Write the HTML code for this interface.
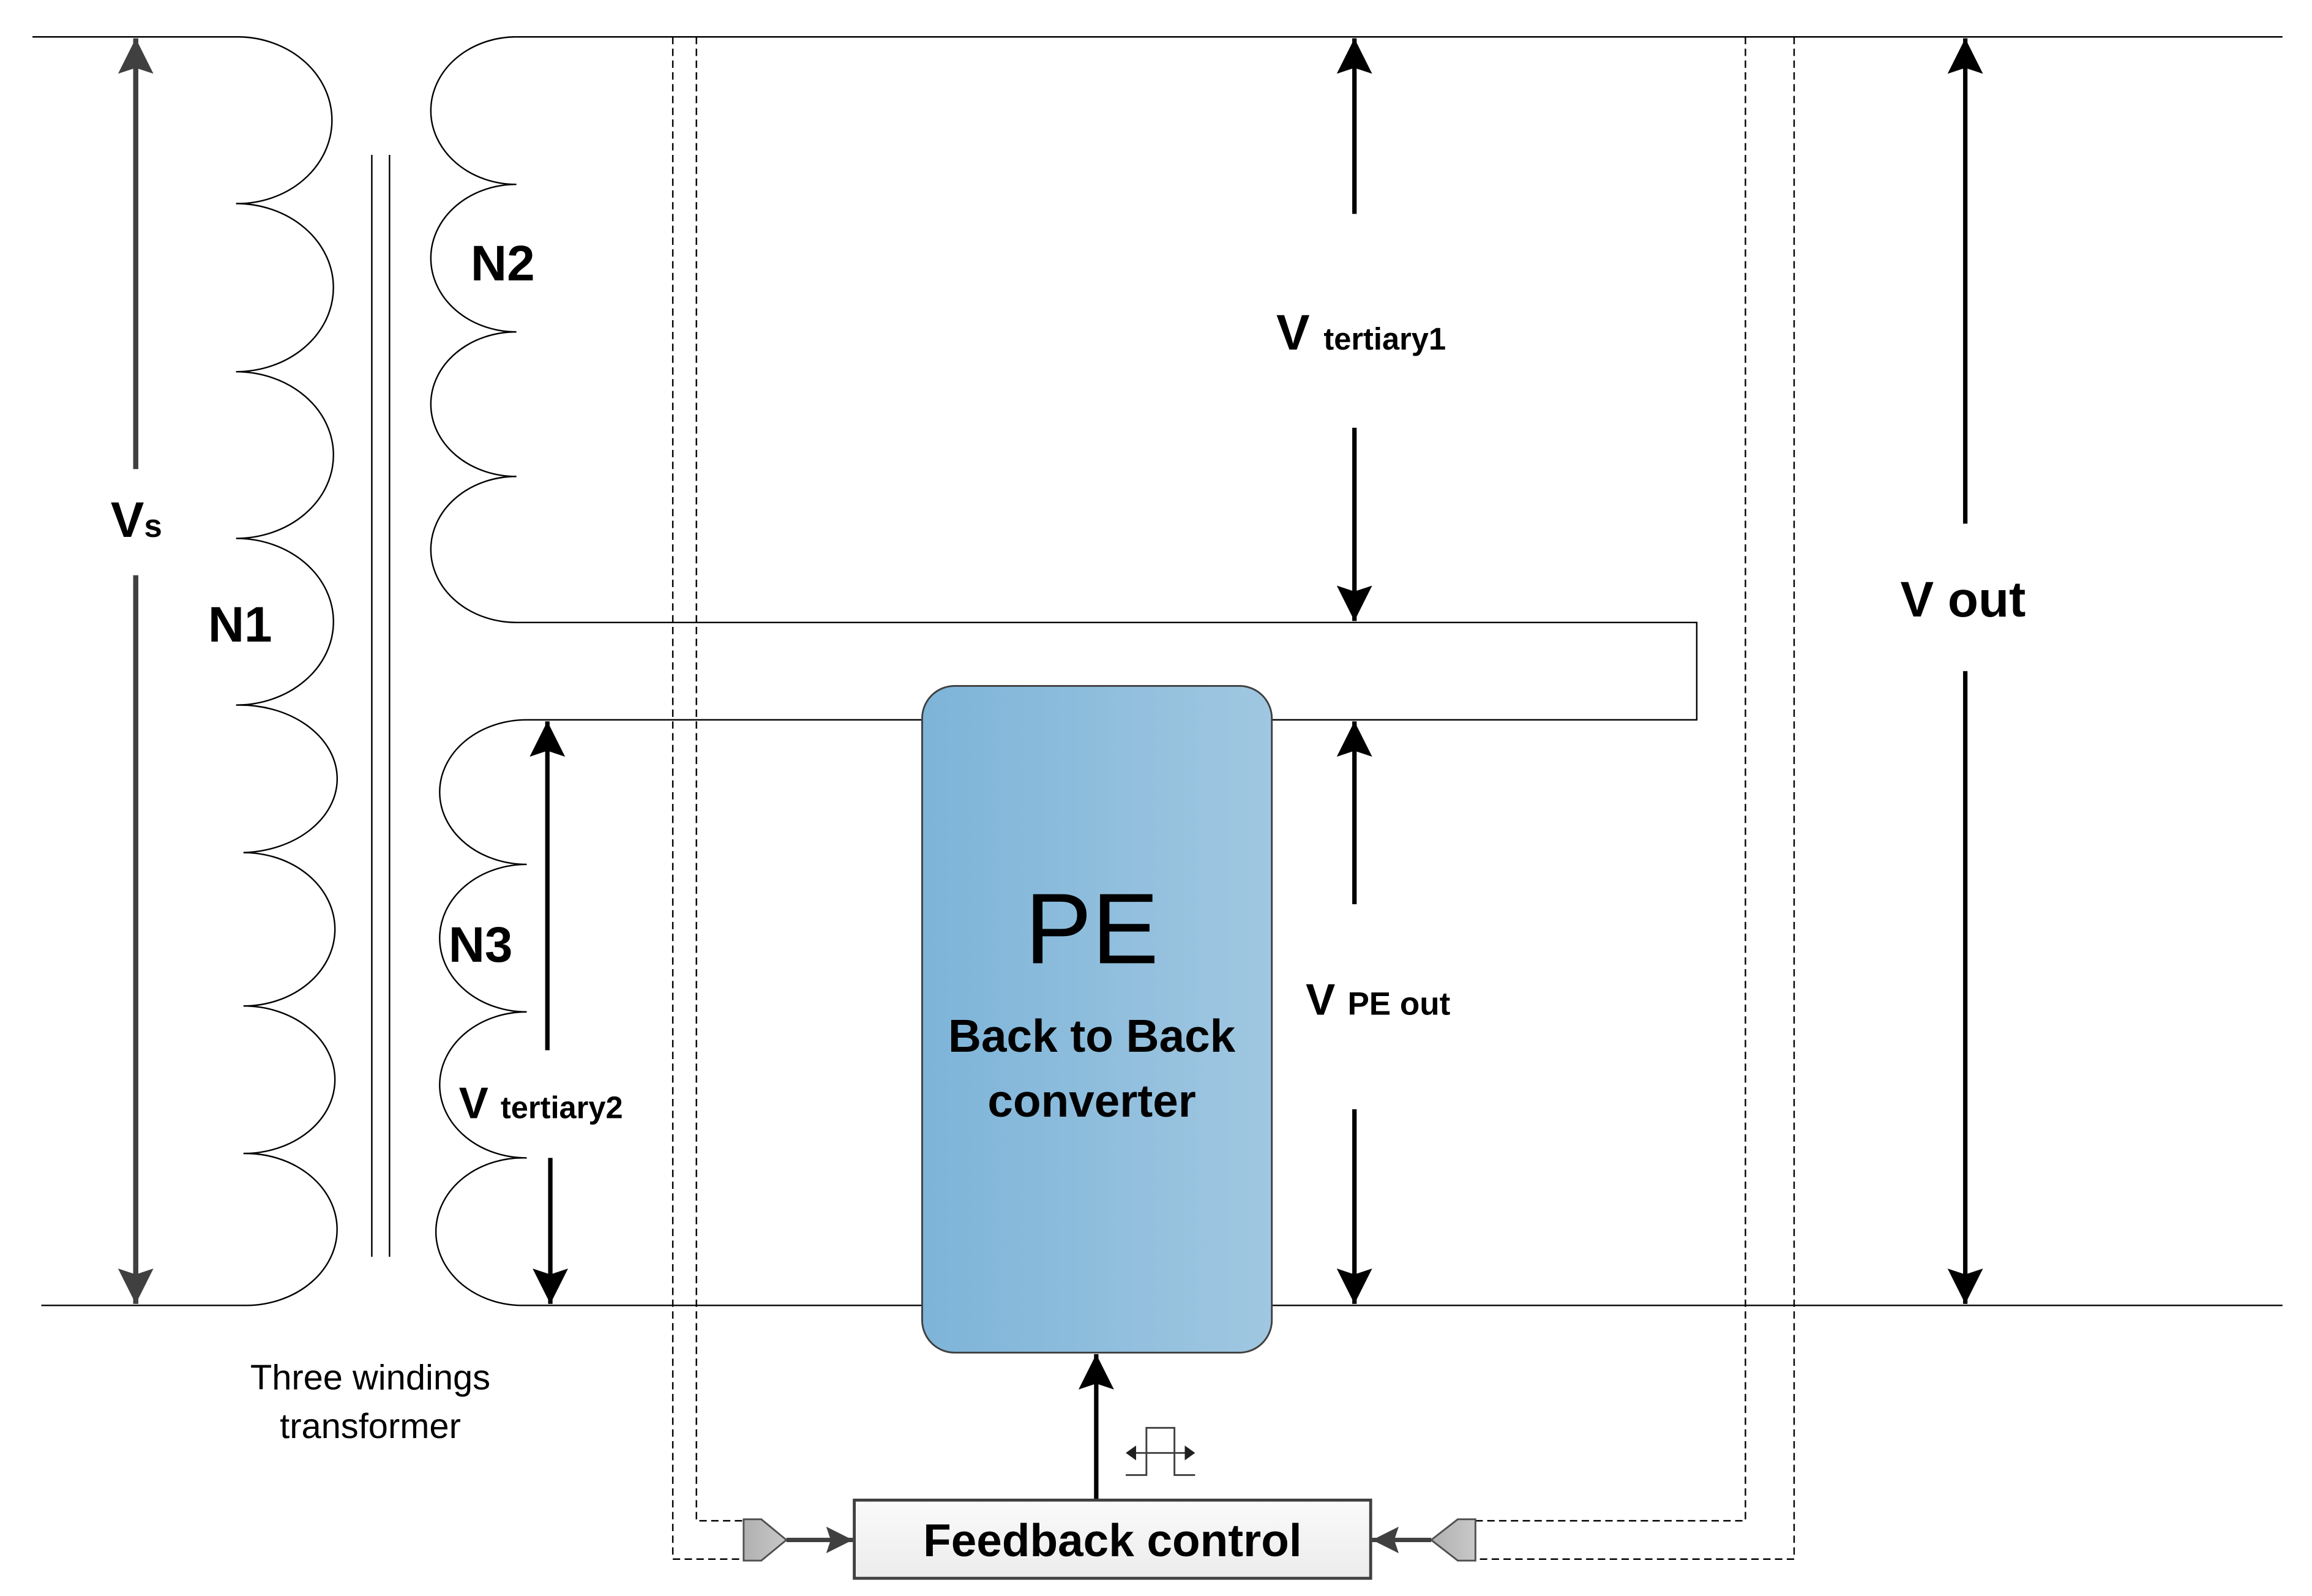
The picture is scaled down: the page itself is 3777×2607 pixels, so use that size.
<!DOCTYPE html>
<html><head><meta charset="utf-8"><style>html,body{margin:0;padding:0;background:#fff}svg{display:block}</style></head>
<body>
<svg width="3777" height="2607" viewBox="0 0 1567 1082" preserveAspectRatio="none" xmlns="http://www.w3.org/2000/svg" font-family="Liberation Sans, sans-serif">
<defs>
<linearGradient id="pe" x1="0" x2="1"><stop offset="0" stop-color="#7db4d8"/><stop offset="1" stop-color="#a0c7e1"/></linearGradient>
<linearGradient id="fb" x1="0" y1="0" x2="0" y2="1"><stop offset="0" stop-color="#fafafa"/><stop offset="1" stop-color="#ececec"/></linearGradient>
<linearGradient id="cn" x1="0" x2="1"><stop offset="0" stop-color="#b0b0b0"/><stop offset="1" stop-color="#c8c8c8"/></linearGradient>
<marker id="ahb" viewBox="0 0 24 24" refX="24" refY="12" markerWidth="24" markerHeight="24" orient="auto" markerUnits="userSpaceOnUse"><path d="M0,0 L24,12 L0,24 L4,12 z" fill="#000"/></marker>
<marker id="ahg" viewBox="0 0 24 24" refX="24" refY="12" markerWidth="24" markerHeight="24" orient="auto" markerUnits="userSpaceOnUse"><path d="M0,0 L24,12 L0,24 L4,12 z" fill="#404040"/></marker>
<marker id="ahs" viewBox="0 0 18 18" refX="18" refY="9" markerWidth="18" markerHeight="18" orient="auto" markerUnits="userSpaceOnUse"><path d="M0,0 L18,9 L0,18 L3,9 z" fill="#404040"/></marker>
</defs>
<g fill="none" stroke="#000" stroke-width="1">
<path d="M22,25 H162 M350,25 H1547 M28,885 H168 M352,885 H1547"/>
<path d="M162,25 A64,56.5 0 0 1 160,138 A66,57 0 0 1 160,252 A66,56.5 0 0 1 160,365 A66,56.5 0 0 1 160,478 A66,50 0 0 1 165,578 A62,52 0 0 1 165,682 A62,50 0 0 1 165,782 A62,51.5 0 0 1 168,885"/>
<path d="M252,105 V852 M264,105 V852"/>
<path d="M350,25 A58,50 0 0 0 350,125 A58,50 0 0 0 350,225 A58,49 0 0 0 350,323 A58,49.5 0 0 0 350,422 H1150 V488 H357"/>
<path d="M357,488 A59,49 0 0 0 357,586 A59,50 0 0 0 357,686 A59,49.5 0 0 0 357,785 A59,50 0 0 0 352,885"/>
<g stroke-dasharray="5,3" stroke="#000">
<path d="M456,25 V1057 H504"/><path d="M472,25 V1031 H504"/>
<path d="M1183,25 V1031 H1000"/><path d="M1216,25 V1057 H1000"/>
</g>
</g>
<g stroke="#404040" stroke-width="3.5" fill="none">
<path d="M92,318 V26" marker-end="url(#ahg)"/><path d="M92,390 V884" marker-end="url(#ahg)"/>
</g>
<g stroke="#000" stroke-width="3" fill="none">
<path d="M918,145 V26" marker-end="url(#ahb)"/><path d="M918,290 V421" marker-end="url(#ahb)"/>
<path d="M918,613 V489" marker-end="url(#ahb)"/><path d="M918,752 V884" marker-end="url(#ahb)"/>
<path d="M1332,355 V26" marker-end="url(#ahb)"/><path d="M1332,455 V884" marker-end="url(#ahb)"/>
<path d="M371,712 V489" marker-end="url(#ahb)"/><path d="M373,785 V884" marker-end="url(#ahb)"/>
<path d="M743,1017 V918" marker-end="url(#ahb)"/>
</g>
<rect x="625" y="465" width="237" height="452" rx="22" fill="url(#pe)" stroke="#404040" stroke-width="1.2"/>
<text x="740" y="653" font-size="68" text-anchor="middle">PE</text>
<text x="740" y="713" font-size="31" font-weight="bold" text-anchor="middle">Back to Back</text>
<text x="740" y="757" font-size="31" font-weight="bold" text-anchor="middle">converter</text>
<rect x="579" y="1017" width="350" height="53" fill="url(#fb)" stroke="#404040" stroke-width="2"/>
<text x="754" y="1055" font-size="31" font-weight="bold" text-anchor="middle">Feedback control</text>
<path d="M504,1030 H516 L533,1044 L516,1058 H504 Z" fill="url(#cn)" stroke="#505050" stroke-width="1.2"/>
<path d="M1000,1030 H988 L970,1044 L988,1058 H1000 Z" fill="url(#cn)" stroke="#505050" stroke-width="1.2"/>
<g stroke="#404040" stroke-width="3"><path d="M533,1044 H578" marker-end="url(#ahs)"/><path d="M970,1044 H930" marker-end="url(#ahs)"/></g>
<g stroke="#404040" stroke-width="1.2" fill="none"><path d="M763,1000 H777 V968 H796 V1000 H810"/><path d="M766,985 H807"/></g>
<path d="M763,985 L770,980 V990 Z M810,985 L803,980 V990 Z" fill="#202020"/>
<g font-weight="bold" fill="#000">
<text x="75" y="364" font-size="34">V<tspan font-size="22">s</tspan></text>
<text x="141" y="435" font-size="34">N1</text>
<text x="319" y="190" font-size="34">N2</text>
<text x="304" y="652" font-size="34">N3</text>
<text x="865" y="237" font-size="34">V <tspan font-size="21">tertiary1</tspan></text>
<text x="311" y="758" font-size="30">V <tspan font-size="21">tertiary2</tspan></text>
<text x="885" y="688" font-size="30">V <tspan font-size="22">PE out</tspan></text>
<text x="1288" y="418" font-size="34">V out</text>
</g>
<text x="251" y="942" font-size="24" text-anchor="middle">Three windings</text>
<text x="251" y="975" font-size="24" text-anchor="middle">transformer</text>
</svg>
</body></html>
